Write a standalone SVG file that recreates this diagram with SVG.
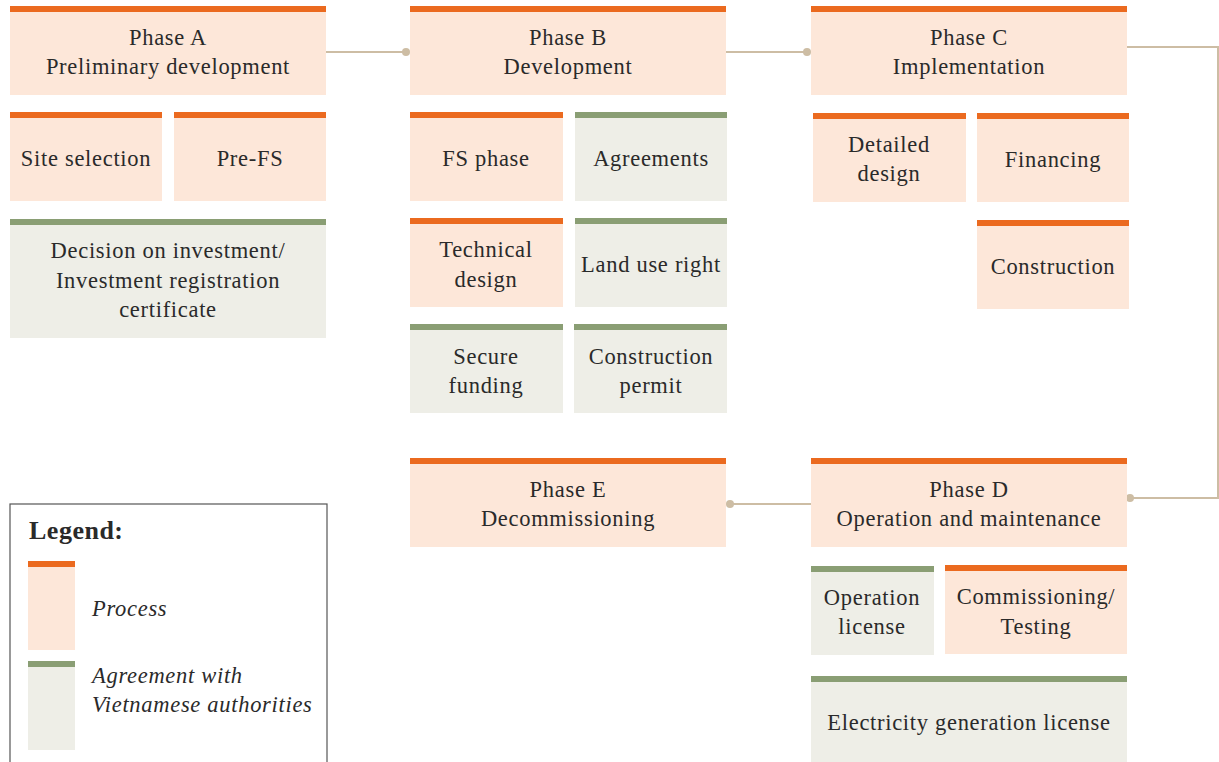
<svg xmlns="http://www.w3.org/2000/svg" width="1219" height="762" viewBox="0 0 1219 762">
<style>
.p{fill:#FDE7D9}
.a{fill:#EEEEE7}
.pb{fill:#EB6A1F}
.ab{fill:#8A9E74}
text{font-family:"Liberation Serif","DejaVu Serif",serif;font-size:22.5px;letter-spacing:0.7px;fill:#2a2a2a;text-anchor:middle}
.conn{fill:none;stroke:#CDBDA4;stroke-width:2}
.dot{fill:#CDBDA4}
.leg{text-anchor:start;font-style:italic}
</style>
<rect width="1219" height="762" fill="#fff"/>
<g id="connectors">
<path class="conn" d="M326 52H406"/><circle class="dot" cx="406" cy="52" r="4"/>
<path class="conn" d="M726 52H807"/><circle class="dot" cx="807" cy="52" r="4"/>
<path class="conn" d="M1127 47H1218V498H1130"/><circle class="dot" cx="1130" cy="498" r="4"/>
<path class="conn" d="M811 504H730"/><circle class="dot" cx="730" cy="504" r="4"/>
</g>
<g id="phaseA"><rect class="p" x="10" y="6" width="316" height="89"/><rect class="pb" x="10" y="6" width="316" height="6"/><text x="168" y="45">Phase A</text><text x="168" y="74">Preliminary development</text></g>
<g id="site"><rect class="p" x="10" y="112" width="152" height="89"/><rect class="pb" x="10" y="112" width="152" height="6"/><text x="86" y="166">Site selection</text></g>
<g id="prefs"><rect class="p" x="174" y="112" width="152" height="89"/><rect class="pb" x="174" y="112" width="152" height="6"/><text x="250" y="166">Pre-FS</text></g>
<g id="decision"><rect class="a" x="10" y="219" width="316" height="119"/><rect class="ab" x="10" y="219" width="316" height="6"/><text x="168" y="258">Decision on investment/</text><text x="168" y="288">Investment registration</text><text x="168" y="317">certificate</text></g>

<g id="phaseB"><rect class="p" x="410" y="6" width="316" height="89"/><rect class="pb" x="410" y="6" width="316" height="6"/><text x="568" y="45">Phase B</text><text x="568" y="74">Development</text></g>
<g id="fs"><rect class="p" x="410" y="112" width="153" height="89"/><rect class="pb" x="410" y="112" width="153" height="6"/><text x="486" y="166">FS phase</text></g>
<g id="agreements"><rect class="a" x="575" y="112" width="152" height="89"/><rect class="ab" x="575" y="112" width="152" height="6"/><text x="651" y="166">Agreements</text></g>
<g id="technical"><rect class="p" x="410" y="218" width="153" height="89"/><rect class="pb" x="410" y="218" width="153" height="6"/><text x="486" y="257">Technical</text><text x="486" y="287">design</text></g>
<g id="landuse"><rect class="a" x="575" y="218" width="152" height="89"/><rect class="ab" x="575" y="218" width="152" height="6"/><text x="651" y="272">Land use right</text></g>
<g id="funding"><rect class="a" x="410" y="324" width="153" height="89"/><rect class="ab" x="410" y="324" width="153" height="6"/><text x="486" y="364">Secure</text><text x="486" y="393">funding</text></g>
<g id="permit"><rect class="a" x="574" y="324" width="153" height="89"/><rect class="ab" x="574" y="324" width="153" height="6"/><text x="651" y="364">Construction</text><text x="651" y="393">permit</text></g>

<g id="phaseC"><rect class="p" x="811" y="6" width="316" height="89"/><rect class="pb" x="811" y="6" width="316" height="6"/><text x="969" y="45">Phase C</text><text x="969" y="74">Implementation</text></g>
<g id="detailed"><rect class="p" x="813" y="113" width="153" height="89"/><rect class="pb" x="813" y="113" width="153" height="6"/><text x="889" y="152">Detailed</text><text x="889" y="181">design</text></g>
<g id="financing"><rect class="p" x="977" y="113" width="152" height="89"/><rect class="pb" x="977" y="113" width="152" height="6"/><text x="1053" y="167">Financing</text></g>
<g id="construction"><rect class="p" x="977" y="220" width="152" height="89"/><rect class="pb" x="977" y="220" width="152" height="6"/><text x="1053" y="274">Construction</text></g>

<g id="phaseD"><rect class="p" x="811" y="458" width="316" height="89"/><rect class="pb" x="811" y="458" width="316" height="6"/><text x="969" y="497">Phase D</text><text x="969" y="526">Operation and maintenance</text></g>
<g id="oplicense"><rect class="a" x="811" y="566" width="123" height="89"/><rect class="ab" x="811" y="566" width="123" height="6"/><text x="872" y="605">Operation</text><text x="872" y="634">license</text></g>
<g id="commissioning"><rect class="p" x="945" y="565" width="182" height="89"/><rect class="pb" x="945" y="565" width="182" height="6"/><text x="1036" y="604">Commissioning/</text><text x="1036" y="634">Testing</text></g>
<g id="elecense"><rect class="a" x="811" y="676" width="316" height="90"/><rect class="ab" x="811" y="676" width="316" height="6"/><text x="969" y="730">Electricity generation license</text></g>

<g id="phaseE"><rect class="p" x="410" y="458" width="316" height="89"/><rect class="pb" x="410" y="458" width="316" height="6"/><text x="568" y="497">Phase E</text><text x="568" y="526">Decommissioning</text></g>

<g id="legend">
<rect x="10" y="504" width="317" height="270" fill="#fff" stroke="#555" stroke-width="1.2"/>
<text x="29" y="539" style="text-anchor:start;font-weight:bold;font-size:26px;letter-spacing:0.5px">Legend:</text>
<rect class="p" x="28" y="561" width="47" height="89"/><rect class="pb" x="28" y="561" width="47" height="6"/>
<text class="leg" x="92" y="616">Process</text>
<rect class="a" x="28" y="661" width="47" height="89"/><rect class="ab" x="28" y="661" width="47" height="6"/>
<text class="leg" x="92" y="683">Agreement with</text>
<text class="leg" x="92" y="712">Vietnamese authorities</text>
</g>
</svg>
